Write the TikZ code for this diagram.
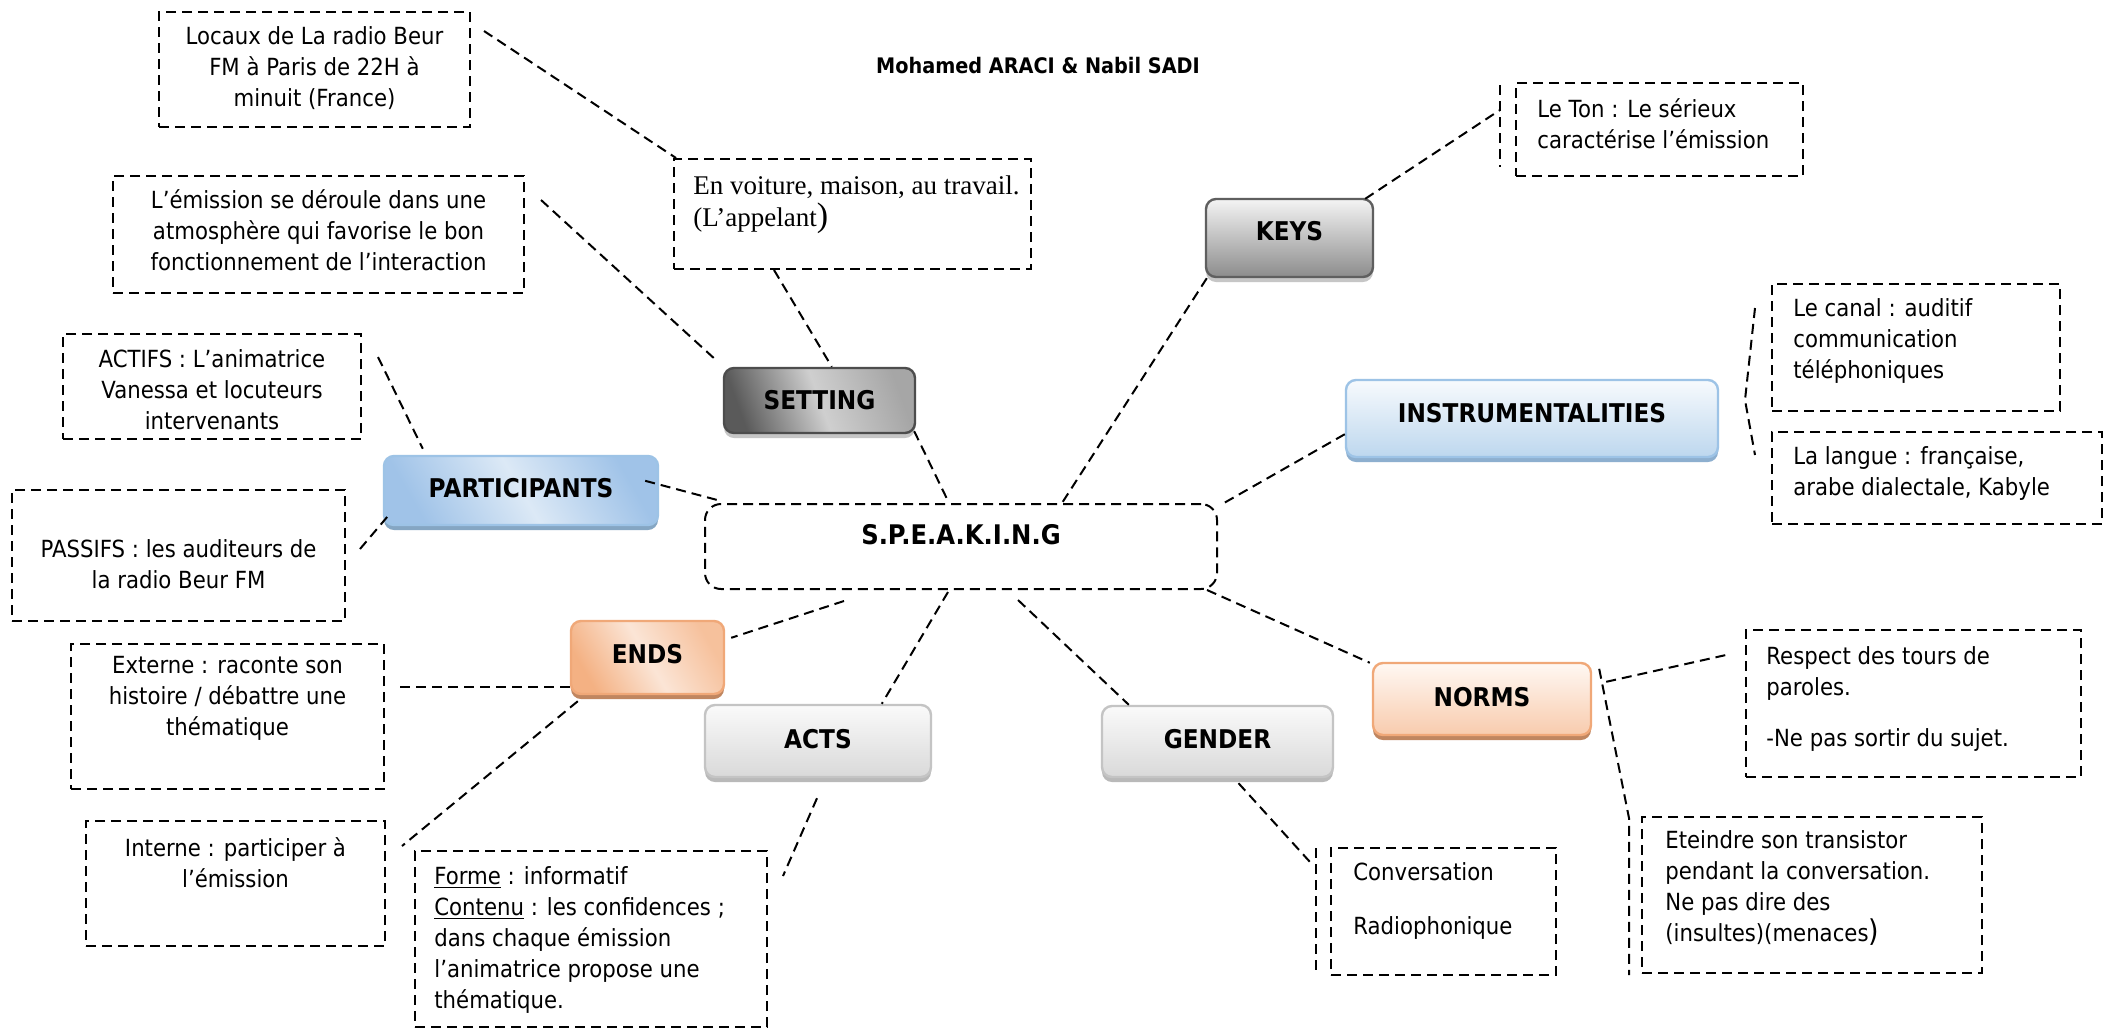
\documentclass[tikz,border=0pt]{standalone}
\usepackage{fontspec}
\setmainfont{DejaVu Sans}[FakeStretch=0.9]
\newfontfamily\serifx{Liberation Serif}
\usetikzlibrary{fit,shadows}
\definecolor{keysTop}{HTML}{F4F4F4}
\definecolor{keysBot}{HTML}{8C8C8C}
\definecolor{keysBd}{HTML}{5F5F5F}
\definecolor{setDark}{HTML}{5A5A5A}
\definecolor{setLight}{HTML}{CFCFCF}
\definecolor{setBd}{HTML}{4D4D4D}
\definecolor{blueTop}{HTML}{F7FAFD}
\definecolor{blueBot}{HTML}{BDD7EE}
\definecolor{blueBd}{HTML}{9DC3E6}
\definecolor{partTop}{HTML}{DCE9F6}
\definecolor{partBot}{HTML}{A0C3E8}
\definecolor{orTop}{HTML}{F4B183}
\definecolor{orMid}{HTML}{FBE5D6}
\definecolor{orBd}{HTML}{F0A878}
\definecolor{peachTop}{HTML}{FFF8F3}
\definecolor{peachBot}{HTML}{F8CBAD}
\definecolor{grayTop}{HTML}{FAFAFA}
\definecolor{grayBot}{HTML}{D9D9D9}
\definecolor{grayBd}{HTML}{C4C4C4}
\tikzset{
  dsh/.style={line width=1pt, dash pattern=on 5pt off 3pt},
  dbox/.style={dsh, draw=black, inner sep=0pt},
  txt/.style={inner sep=0pt, font=\fontsize{11.8}{15.5}\selectfont},
  lbl/.style={inner sep=0pt, font=\fontsize{12.9}{15}\selectfont\bfseries},
  cnode/.style={rounded corners=5pt, line width=1.2pt, inner sep=0pt},
  sh/.style={drop shadow={shadow xshift=0pt, shadow yshift=-2.5pt, fill=#1, opacity=1}},
  keysstyle/.style={cnode, draw=keysBd, top color=keysTop, bottom color=keysBot, sh=gray!45},
  setstyle/.style={cnode, draw=setBd, left color=setDark, right color=black!35, middle color=setLight, shading angle=110, sh=gray!45},
  instrstyle/.style={cnode, draw=blueBd, top color=blueTop, bottom color=blueBot, sh=blueBd!90!black},
  partstyle/.style={cnode, draw=blueBd, left color=partBot, right color=partBot, middle color=partTop, shading angle=120, sh=blueBd!85!black},
  endsstyle/.style={cnode, draw=orBd, left color=orTop, right color=orTop!80, middle color=orMid, shading angle=120, sh=orBd!80!black},
  normsstyle/.style={cnode, draw=orBd, top color=peachTop, bottom color=peachBot, sh=orBd!80!black},
  graystyle/.style={cnode, draw=grayBd, top color=grayTop, bottom color=grayBot, sh=gray!55},
}
\begin{document}
\begin{tikzpicture}[x=0.5pt,y=-0.5pt]
\useasboundingbox (0,0) rectangle (2111,1029);
\fill[white] (0,0) rectangle (2111,1029);

\node[inner sep=0pt, font=\fontsize{10.7}{13}\selectfont\bfseries] (title) at (1038,66) {Mohamed ARACI \& Nabil SADI};

% central node
\node[dbox, rounded corners=8pt, fill=white, fit={(705,504) (1217,589)}] (speaking) {};
\node[inner sep=0pt, font=\fontsize{13.5}{15}\selectfont\bfseries] (speakingt) at (961,535) {S.P.E.A.K.I.N.G};

% coloured nodes
\node[setstyle, fit={(724,368) (915,433)}] (setting) {};
\node[lbl] (settingt) at ([yshift=0pt]setting.center) {SETTING};
\node[keysstyle, fit={(1206,199) (1373,277)}] (keys) {};
\node[lbl] (keyst) at ([yshift=3.4pt]keys.center) {KEYS};
\node[instrstyle, fit={(1346,380) (1718,457)}] (instr) {};
\node[lbl] (instrt) at ([yshift=2.7pt]instr.center) {INSTRUMENTALITIES};
\node[partstyle, fit={(384,456) (658,525)}] (part) {};
\node[lbl] (partt) at ([yshift=1pt]part.center) {PARTICIPANTS};
\node[endsstyle, fit={(571,621) (724,694)}] (ends) {};
\node[lbl] (endst) at ([yshift=1.5pt]ends.center) {ENDS};
\node[graystyle, fit={(705,705) (931,777)}] (acts) {};
\node[lbl] (actst) at ([yshift=1.2pt]acts.center) {ACTS};
\node[graystyle, fit={(1102,706) (1333,777)}] (gender) {};
\node[lbl] (gendert) at ([yshift=1.2pt]gender.center) {GENDER};
\node[normsstyle, fit={(1373,663) (1591,735)}] (norms) {};
\node[lbl] (normst) at ([yshift=1.2pt]norms.center) {NORMS};

% dashed text boxes
\node[dbox, fit={(159,12) (470,127)}] (locaux) {};
\node[txt, anchor=north, align=center] (locauxt) at (314.5,26) {Locaux de La radio Beur\\FM à Paris de 22H à\\minuit (France)};

\node[dbox, fit={(674,159) (1031,269)}] (envoit) {};
\node[inner sep=0pt, anchor=north west, align=left, font=\serifx\fontsize{13.5}{16}\selectfont] (envoitt) at (693,175) {En voiture, maison, au travail.\\(L’appelant{\fontsize{17}{16}\selectfont)}};

\node[dbox, fit={(113,176) (524,293)}] (emission) {};
\node[txt, anchor=north, align=center] (emissiont) at (318.5,189) {L’émission se déroule dans une\\atmosphère qui favorise le bon\\fonctionnement de l’interaction};

\node[dbox, fit={(1516,83) (1803,176)}] (leton) {};
\node[txt, anchor=north west, align=left] (letont) at (1537,98) {Le Ton : Le sérieux\\caractérise l’émission};

\node[dbox, fit={(63,334) (361,439)}] (actifs) {};
\node[txt, anchor=north, align=center] (actifst) at (212,349) {ACTIFS : L’animatrice\\Vanessa et locuteurs\\intervenants};

\node[dbox, fit={(12,490) (345,621)}] (passifs) {};
\node[txt, anchor=north, align=center] (passifst) at (178.5,539) {PASSIFS : les auditeurs de\\la radio Beur FM};

\node[dbox, fit={(1772,284) (2060,411)}] (canal) {};
\node[txt, anchor=north west, align=left] (canalt) at (1793,298) {Le canal : auditif\\communication\\téléphoniques};

\node[dbox, fit={(1772,432) (2102,524)}] (langue) {};
\node[txt, anchor=north west, align=left] (languet) at (1793,446) {La langue : française,\\arabe dialectale, Kabyle};

\node[dbox, fit={(71,644) (384,789)}] (externe) {};
\node[txt, anchor=north, align=center] (externet) at (227.5,656) {Externe : raconte son\\histoire / débattre une\\thématique};

\node[dbox, fit={(1746,630) (2081,777)}] (respect) {};
\node[txt, anchor=north west, align=left] (respectt) at (1766,646) {Respect des tours de\\paroles.\\[10pt]-Ne pas sortir du sujet.};

\node[dbox, fit={(86,821) (385,946)}] (interne) {};
\node[txt, anchor=north, align=center] (internet) at (235.5,837) {Interne : participer à\\l’émission};

\node[dbox, fit={(415,851) (767,1027)}] (forme) {};
\node[txt, anchor=north west, align=left] (formet) at (434,866) {\underline{Forme} : informatif\\\underline{Contenu} : les confidences ;\\dans chaque émission\\l’animatrice propose une\\thématique.};

\node[dbox, fit={(1331,848) (1556,975)}] (conv) {};
\node[txt, anchor=north west, align=left] (convt) at (1353,862) {Conversation\\[11.5pt]Radiophonique};

\node[dbox, fit={(1642,817) (1982,973)}] (eteindre) {};
\node[txt, anchor=north west, align=left] (eteindret) at (1665,830) {Eteindre son transistor\\pendant la conversation.\\Ne pas dire des\\(insultes)(menaces{\fontsize{15}{15}\selectfont)}};

% brackets
\coordinate (tb1) at (1500,85);
\coordinate (tb2) at (1500,167);
\coordinate (tbm) at (1500,110);
\draw[dsh] (tb1) -- (tb2);
\coordinate (ib1) at (1755,308);
\coordinate (ibm) at (1745,400);
\coordinate (ib2) at (1755,455);
\draw[dsh] (ib1) -- (ibm) -- (ib2);
\coordinate (cb1) at (1316,848);
\coordinate (cb2) at (1316,973);
\coordinate (cbm) at (1310,862);
\draw[dsh] (cb1) -- (cb2);
\coordinate (eb1) at (1629,818);
\coordinate (eb2) at (1629,975);
\coordinate (exte) at (400,687);

% connectors
\draw[dsh] ([shift={(13,20)}]locaux.north east) -- ([shift={(3,0)}]envoit.north west);
\draw[dsh] ([shift={(101,0)}]envoit.south west) -- ([shift={(109,0)}]setting.north west);
\draw[dsh] ([shift={(16,25)}]emission.north east) -- ([shift={(-6,-6)}]setting.north west);
\draw[dsh] ([shift={(-2,-3)}]setting.south east) -- ([shift={(245,0)}]speaking.north west);
\draw[dsh] ([shift={(2,0)}]keys.south west) -- ([shift={(358,0)}]speaking.north west);
\draw[dsh] ([shift={(-9,1)}]keys.north east) -- (tbm);
\draw[dsh] ([shift={(0,-24)}]instr.south west) -- ([shift={(6,0)}]speaking.north east);
\draw[dsh] ([shift={(16,24)}]actifs.north east) -- ([shift={(40,-6)}]part.north west);
\draw[dsh] ([shift={(14,60)}]passifs.north east) -- ([shift={(5,-10)}]part.south west);
\draw[dsh] ([shift={(-14,26)}]part.north east) -- ([shift={(17,-2)}]speaking.north west);
\draw[dsh] ([shift={(140,11)}]speaking.south west) -- ([shift={(6,18)}]ends.north east);
\draw[dsh] ([shift={(244,2)}]speaking.south west) -- ([shift={(178,0)}]acts.north west);
\draw[dsh] ([shift={(314,10)}]speaking.south west) -- ([shift={(28,0)}]gender.north west);
\draw[dsh] ([shift={(-11,0)}]speaking.south east) -- ([shift={(-2,1)}]norms.north west);
\draw[dsh] (ends.west |- exte) -- (exte);
\draw[dsh] ([shift={(8,6)}]ends.south west) -- ([shift={(16,26)}]interne.north east);
\draw[dsh] ([shift={(-1,20)}]acts.south) -- ([shift={(15,26)}]forme.north east);
\draw[dsh] ([shift={(21,5)}]gender.south) -- (cbm);
\draw[dsh] ([shift={(14,20)}]norms.north east) -- ([shift={(-19,26)}]respect.north west);
\draw[dsh] ([shift={(7,7)}]norms.north east) -- (eb1) -- (eb2);
\end{tikzpicture}
\end{document}
